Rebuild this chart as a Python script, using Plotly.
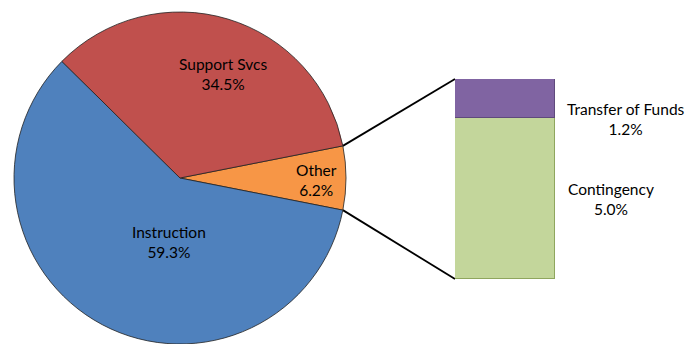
import math
import plotly.graph_objects as go

# ---- data ----
pie_labels = ["Other", "Instruction", "Support Svcs"]
pie_values = [6.2, 59.3, 34.5]
pie_colors = ["#F79646", "#4F81BD", "#C0504D"]

bar_labels = ["Contingency", "Transfer of Funds"]
bar_values = [5.0, 1.2]
bar_colors = ["#C3D69B", "#8064A2"]
bar_line_colors = ["#8FA65E", "#5F4A7C"]

W, H = 699, 344
FONT = "Lato, Calibri, 'Open Sans', sans-serif"

# ---- layout geometry ----
pie_dom_x = [13 / W, 347 / W]
pie_dom_y = [0.0, 1 - 12 / H]
bar_dom_x = [455 / W, 555 / W]
bar_dom_y = [1 - 279 / H, 1 - 79 / H]

total = sum(pie_values)
other_share = pie_values[0] / total
rotation = 90 - other_share * 360 / 2

fig = go.Figure()
fig.add_trace(go.Pie(
    labels=pie_labels, values=pie_values, sort=False,
    direction="clockwise", rotation=rotation,
    marker=dict(colors=pie_colors, line=dict(color="#222222", width=0.8)),
    textinfo="none", showlegend=False,
    domain=dict(x=pie_dom_x, y=pie_dom_y),
    hovertemplate="%{label}: %{value}%<extra></extra>",
))

for lab, val, col, lc in zip(bar_labels, bar_values, bar_colors, bar_line_colors):
    fig.add_trace(go.Bar(
        x=[0], y=[val], name=lab, width=1,
        marker=dict(color=col, line=dict(color=lc, width=1.2)),
        xaxis="x", yaxis="y", showlegend=False,
        hovertemplate=lab + ": %{y}%<extra></extra>",
    ))

# ---- connector lines (computed from pie geometry and bar axes) ----
cx_px = (pie_dom_x[0] + pie_dom_x[1]) / 2 * W
cy_px = (1 - (pie_dom_y[0] + pie_dom_y[1]) / 2) * H
r_px = min((pie_dom_x[1] - pie_dom_x[0]) * W, (pie_dom_y[1] - pie_dom_y[0]) * H) / 2
half = other_share * math.pi
shapes = []
for sign, by in [(-1, bar_dom_y[1]), (1, bar_dom_y[0])]:
    ex = cx_px + r_px * math.cos(half)
    ey = cy_px + sign * r_px * math.sin(half)
    shapes.append(dict(type="line", xref="paper", yref="paper",
                       x0=ex / W, y0=1 - ey / H, x1=bar_dom_x[0], y1=by,
                       line=dict(color="black", width=1.8), layer="below"))

# ---- labels ----
def pct(v):
    return f"{v:.1f}%"

label_pos = {
    "Support Svcs": (223, 74),
    "Other": (316, 180),
    "Instruction": (169, 242),
    "Transfer of Funds": (626, 119),
    "Contingency": (611, 199),
}
values = dict(zip(pie_labels, pie_values))
values.update(dict(zip(bar_labels, bar_values)))
annotations = []
for name, (px, py) in label_pos.items():
    annotations.append(dict(
        x=px / W, y=1 - py / H, xref="paper", yref="paper",
        text=f"{name}<br>{pct(values[name])}", showarrow=False,
        font=dict(family=FONT, size=15.5, color="#000000"),
        align="center", xanchor="center", yanchor="middle",
    ))

fig.update_layout(
    width=W, height=H, margin=dict(l=0, r=0, t=0, b=0),
    paper_bgcolor="white", plot_bgcolor="rgba(0,0,0,0)",
    barmode="stack", bargap=0,
    xaxis=dict(domain=bar_dom_x, range=[-0.5, 0.5], visible=False, fixedrange=True),
    yaxis=dict(domain=bar_dom_y, range=[0, sum(bar_values)], visible=False, fixedrange=True),
    shapes=shapes, annotations=annotations,
    font=dict(family=FONT),
)

fig.write_html("out.html")
